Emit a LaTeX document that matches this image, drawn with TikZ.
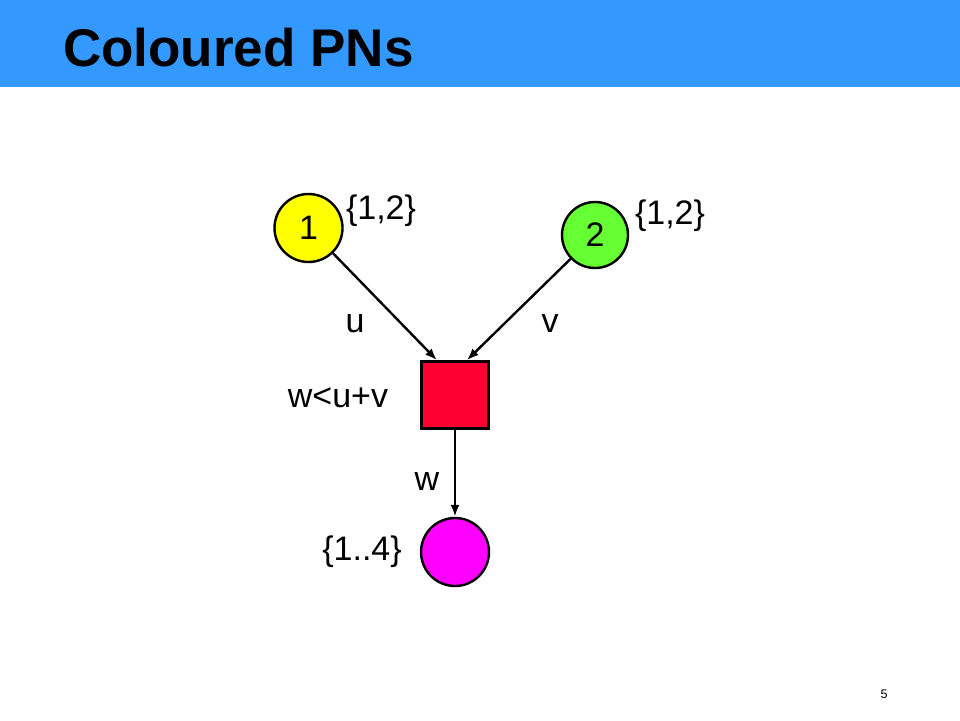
\documentclass[tikz,border=0pt]{standalone}
\usepackage{fontspec}
\setmainfont{Liberation Sans}
\usetikzlibrary{arrows.meta,calc}
\definecolor{band}{HTML}{3399FF}
\definecolor{pyellow}{HTML}{FFFF00}
\definecolor{pgreen}{HTML}{66FF33}
\definecolor{pred}{HTML}{FF0033}
\definecolor{pmag}{HTML}{FF00FF}
\tikzset{
  place/.style={circle,draw=black,line width=2.4pt,minimum size=68pt,inner sep=0pt,font=\fontsize{34}{40}\selectfont},
  trans/.style={rectangle,draw=black,line width=2.4pt,minimum size=67pt,inner sep=0pt,fill=pred},
  lbl/.style={font=\fontsize{34}{40}\selectfont,inner sep=0pt},
  arc/.style={line width=2.4pt,-{Latex[length=12pt,width=9pt]}}
}
\begin{document}
\begin{tikzpicture}[x=1pt,y=-1pt]
\useasboundingbox (0,0) rectangle (960,720);
\fill[band] (0,0) rectangle (960,87);
\node[anchor=base west,inner sep=0pt,font=\fontsize{53}{60}\selectfont\bfseries] (title) at (63,66) {Coloured PNs};
\node[place,fill=pyellow] (p1) at (308.5,228) {1};
\node[place,fill=pgreen,minimum size=66pt] (p2) at (595,235) {2};
\node[trans] (t) at (455,395) {};
\node[place,fill=pmag] (p3) at (455,552) {};
\node[lbl,anchor=base] (l1) at (381,219) {\{1,2\}};
\node[lbl,anchor=base] (l2) at (670,224) {\{1,2\}};
\node[lbl,anchor=base] (lu) at (355,332) {u};
\node[lbl,anchor=base] (lv) at (550,332) {v};
\node[lbl,anchor=base] (lg) at (338,407) {w<u+v};
\node[lbl,anchor=base] (lw) at (427,490) {w};
\node[lbl,anchor=base] (l3) at (362,560) {\{1..4\}};
\node[anchor=base,inner sep=0pt,font=\fontsize{12.5}{14}\selectfont] (pg) at (884,698) {5};
\coordinate (tin1) at ($(t.north west)!0.24!(t.north east)$);
\coordinate (tin2) at ($(t.north west)!0.67!(t.north east)$);
\draw[arc] (p1) -- (tin1);
\draw[arc] (p2) -- (tin2);
\draw[arc] (t.south) -- (p3.north);
\end{tikzpicture}
\end{document}
